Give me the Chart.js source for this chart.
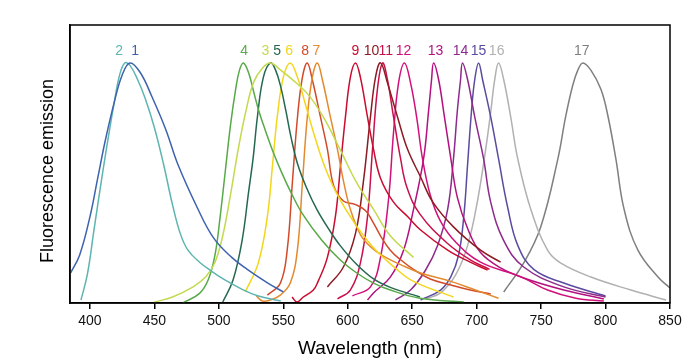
<!DOCTYPE html>
<html lang="en">
<head>
<meta charset="UTF-8">
<title>Fluorescence emission spectra</title>
<script src="https://cdn.jsdelivr.net/npm/chart.js"></script>
<style>
  html, body { margin: 0; padding: 0; background: #fff; }
  #wrap { width: 698px; height: 361px; }
</style>
</head>
<body>
<div id="wrap"><canvas id="spectra"></canvas></div>
<script>
// emission curves, [wavelength nm, relative intensity]
const dye1 = [[385,0.125],[392,0.2],[400,0.36],[406,0.52],[412,0.68],[419,0.84],[425,0.95],[431,1.0],[439,0.96],[448,0.86],[459,0.72],[468,0.58],[483,0.4],[496,0.27],[510,0.19],[522,0.14],[538,0.083],[550,0.046]];
const dye2 = [[393,0.012],[398,0.12],[403,0.3],[408,0.48],[413,0.65],[418,0.81],[423,0.95],[427,1.0],[431,0.99],[437,0.93],[443,0.85],[450,0.73],[457,0.58],[464,0.41],[470,0.29],[476,0.22],[485,0.17],[495,0.13],[505,0.095],[517,0.06],[530,0.03],[548,0.008]];
const dye3 = [[450,0.004],[464,0.025],[480,0.067],[490,0.11],[497,0.17],[503,0.28],[509,0.45],[515,0.64],[521,0.8],[527,0.92],[534,0.98],[540,1.0],[548,0.97],[555,0.94],[569,0.87],[581,0.775],[594,0.64],[607,0.5],[620,0.39],[633,0.28],[651,0.19]];
const dye4 = [[472,0.0],[485,0.04],[492,0.1],[497,0.2],[501,0.36],[505,0.55],[509,0.74],[513,0.89],[516,0.97],[519,1.0],[523,0.96],[527,0.88],[531,0.8],[536,0.72],[542,0.63],[549,0.54],[556,0.46],[565,0.37],[580,0.26],[594,0.18],[607,0.125],[620,0.083],[633,0.054],[656,0.02],[690,0.004]];
const dye5 = [[503,0.004],[511,0.096],[518,0.26],[523,0.46],[526.5,0.6],[530,0.78],[534.5,0.94],[540,1.0],[544,0.97],[548,0.9],[552,0.8],[556,0.69],[561,0.58],[568,0.48],[576,0.39],[585,0.31],[594,0.24],[607,0.16],[620,0.1],[633,0.065],[656,0.025]];
const dye6 = [[520.5,0.046],[530.6,0.167],[537.6,0.36],[541.5,0.567],[545.3,0.775],[550,0.94],[555.4,1.0],[561,0.94],[567,0.83],[574,0.7],[582,0.57],[592,0.45],[605,0.335],[620,0.23],[637,0.145],[651,0.09],[682,0.025]];
const dye7 = [[529,0.03],[533.7,0.008],[540,0.0125],[547.7,0.033],[555.4,0.083],[560.9,0.22],[564.8,0.5],[568.6,0.775],[572.5,0.94],[576.4,1.0],[580.3,0.93],[586.5,0.775],[592,0.64],[596.6,0.51],[602,0.39],[609.8,0.285],[617.6,0.235],[627.7,0.195],[641,0.16],[656.5,0.125],[680,0.09],[699,0.054],[717,0.02]];
const dye8 = [[537.6,0.033],[547.7,0.083],[553,0.22],[557,0.5],[561,0.775],[564.8,0.94],[568.6,1.0],[572.5,0.93],[578.8,0.775],[584.2,0.64],[589,0.49],[596.6,0.425],[606,0.41],[613.7,0.385],[620,0.333],[625.4,0.28],[633,0.22],[641,0.18],[651,0.14],[664,0.1],[680,0.075],[695,0.054],[711,0.0375]];
const dye9 = [[556.8,0.025],[560.6,0.004],[565.5,0.025],[573.3,0.054],[577,0.09],[584.2,0.19],[590.4,0.36],[594.3,0.567],[598.2,0.775],[602,0.94],[606,1.0],[609.8,0.94],[615.3,0.775],[620,0.64],[625.4,0.52],[635.5,0.42],[646.4,0.36],[656.5,0.304],[677.5,0.22],[695,0.17],[708.5,0.1375]];
const dye10 = [[584.2,0.067],[596.6,0.15],[606,0.29],[612,0.5],[617.6,0.775],[621.5,0.94],[625.4,1.0],[630.8,0.917],[638.6,0.775],[646.4,0.64],[656.5,0.525],[666,0.42],[682,0.317],[703,0.22],[718.6,0.17]];
const dye11 = [[592,0.017],[602,0.054],[609.8,0.167],[615.3,0.36],[619.2,0.64],[623,0.89],[627,1.0],[630.8,0.93],[635.5,0.775],[641,0.6],[646,0.48],[656,0.37],[677,0.25],[695,0.18],[710,0.14]];
const dye12 = [[603.6,0.03],[617.6,0.067],[625.4,0.19],[631.6,0.43],[635.5,0.71],[639.4,0.917],[644,1.0],[648.7,0.917],[653.4,0.775],[658,0.6],[664,0.45],[672,0.34],[683.7,0.254],[703,0.17],[734,0.11],[755,0.054],[777,0.02],[798.7,0.008]];
const dye13 = [[615.3,0.0125],[620,0.042],[633,0.108],[643.3,0.22],[651,0.39],[658.8,0.6],[662.7,0.8],[665,0.93],[666.6,1.0],[670.5,0.93],[675,0.775],[680,0.6],[685,0.44],[693,0.31],[703,0.21],[718.6,0.146],[736.5,0.104],[767.6,0.054],[798.7,0.017]];
const dye14 = [[637,0.0125],[648.7,0.054],[660.4,0.1375],[669.7,0.24],[677.5,0.39],[682,0.6],[685,0.8],[687.5,0.93],[689,1.0],[693,0.93],[698.5,0.775],[705.4,0.6],[710.9,0.42],[721,0.26],[736.5,0.15],[767.6,0.067],[800,0.025]];
const dye15 = [[656.5,0.0125],[672,0.054],[680,0.11],[686,0.2],[690,0.36],[693,0.58],[696,0.8],[698.5,0.93],[701.5,1.0],[704.6,0.93],[710.9,0.775],[717,0.6],[724,0.4],[731.9,0.24],[744.3,0.14],[767.6,0.083],[800,0.029]];
const dye16 = [[660.4,0.017],[672,0.042],[683.7,0.117],[693,0.24],[700.8,0.43],[707,0.64],[711,0.8],[714,0.93],[717,1.0],[721,0.93],[726.4,0.775],[731.9,0.6],[742,0.39],[755,0.22],[765,0.167],[788.6,0.108],[819.7,0.054],[846.9,0.0125]];
const dye17 = [[721,0.046],[736.5,0.167],[749.7,0.317],[763,0.6],[769,0.775],[774.6,0.908],[778.5,0.97],[782.4,1.0],[788.6,0.97],[796.4,0.89],[801.8,0.78],[808,0.6],[814.4,0.39],[825.1,0.22],[840.7,0.108],[850,0.0625]];

const curves = [dye1, dye2, dye3, dye4, dye5, dye6, dye7, dye8, dye9, dye10, dye11, dye12, dye13, dye14, dye15, dye16, dye17];
const curveNames = ["1","2","3","4","5","6","7","8","9","10","11","12","13","14","15","16","17"];
const curveColors = ["#3d63ae","#5db5b1","#c3d94e","#58a948","#24694f","#f2d61c","#e38a2f","#d14b2a","#c90c2f","#8c1b22","#c8114a","#d1117a","#b3117f","#8d2a8b","#5a4b9f","#b1b1b1","#7f7f7f"];
// where the number labels sit along the wavelength axis
const labelNm = [435, 422.6, 536, 519.7, 545.3, 554.6, 575.6, 567, 606, 618.5, 629.4, 643.3, 668, 687.5, 701.5, 715.5, 781.6];
const labelLevel = 1.05;
const xTicks = [400, 450, 500, 550, 600, 650, 700, 750, 800, 850];

const FONT = "'Liberation Sans', Arial, Helvetica, sans-serif";

const peakLabels = {
    id: "peakLabels",
    afterDatasetsDraw(chart) {
        const ctx = chart.ctx;
        const xs = chart.scales.x, ys = chart.scales.y;
        const a = chart.chartArea;
        ctx.save();
        // frame round the plot
        ctx.strokeStyle = "#000";
        ctx.lineWidth = 1.5;
        ctx.strokeRect(a.left, a.top, a.right - a.left, a.bottom - a.top);
        ctx.font = "14px " + FONT;
        ctx.textAlign = "center";
        ctx.textBaseline = "middle";
        curveNames.forEach((name, i) => {
            ctx.fillStyle = curveColors[i];
            ctx.fillText(name, xs.getPixelForValue(labelNm[i]), ys.getPixelForValue(labelLevel));
        });
        // y axis title, sits a little below the middle of the axis
        ctx.translate(48, (a.top + a.bottom) / 2 + 7);
        ctx.rotate(-Math.PI / 2);
        ctx.fillStyle = "#000";
        ctx.font = "18px " + FONT;
        ctx.fillText("Fluorescence emission", 0, 0);
        ctx.restore();
    }
};

new Chart(document.getElementById("spectra"), {
    type: "line",
    data: {
        datasets: curves.map((c, i) => ({
            label: curveNames[i],
            data: c.map(p => ({ x: p[0], y: p[1] })),
            borderColor: curveColors[i],
            borderWidth: 1.5,
            pointRadius: 0,
            fill: false,
            tension: 0.4
        }))
    },
    options: {
        responsive: true,
        maintainAspectRatio: false,
        animation: false,
        devicePixelRatio: 1,
        layout: { padding: { top: 25, right: 28, left: 0, bottom: 0 } },
        plugins: { legend: { display: false }, tooltip: { enabled: false } },
        scales: {
            x: {
                type: "linear",
                min: 384.5,
                max: 850,
                afterBuildTicks: s => { s.ticks = xTicks.map(v => ({ value: v })); },
                afterFit: s => { s.height = 58; },
                ticks: { font: { family: FONT, size: 14 }, color: "#111", padding: 4, maxRotation: 0, autoSkip: false },
                grid: { drawOnChartArea: false, tickLength: 6, color: "#000", lineWidth: 1.5 },
                border: { color: "#000", width: 1.5 },
                title: { display: true, text: "Wavelength (nm)", font: { family: FONT, size: 19 }, color: "#000", padding: { top: 0, bottom: 1 } }
            },
            y: {
                min: 0,
                max: 1.158,
                afterFit: s => { s.width = 70; },
                ticks: { display: false },
                grid: { display: false },
                border: { color: "#000", width: 1.5 },
                title: { display: false }
            }
        }
    },
    plugins: [peakLabels]
});
</script>
</body>
</html>
